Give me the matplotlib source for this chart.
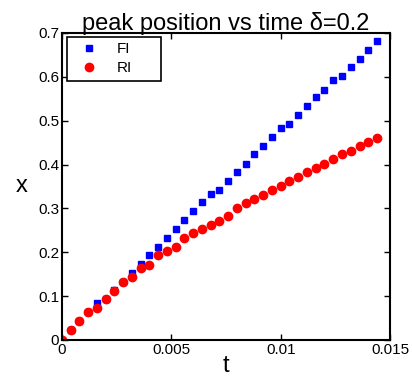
import matplotlib
matplotlib.use('Agg')
import matplotlib.pyplot as plt
import numpy as np

plt.rcParams['font.family'] = ['Liberation Sans', 'DejaVu Sans']

t = np.arange(37) * 0.0004
fi = [0, 0.022, 0.043, 0.064, 0.0835, 0.094, 0.113, 0.133, 0.153, 0.173,
      0.194, 0.213, 0.233, 0.254, 0.273, 0.293, 0.314, 0.333, 0.342, 0.363,
      0.383, 0.402, 0.424, 0.443, 0.462, 0.483, 0.493, 0.512, 0.533, 0.553,
      0.571, 0.592, 0.602, 0.622, 0.641, 0.662, 0.682]
ri = [0, 0.0235, 0.043, 0.064, 0.074, 0.093, 0.112, 0.133, 0.144, 0.163,
      0.172, 0.193, 0.203, 0.212, 0.232, 0.243, 0.253, 0.262, 0.272, 0.282,
      0.302, 0.313, 0.322, 0.331, 0.342, 0.351, 0.362, 0.372, 0.382, 0.392,
      0.402, 0.412, 0.423, 0.432, 0.442, 0.451, 0.461]

fig = plt.figure(figsize=(4.12, 3.79), dpi=100)
ax = fig.add_axes([0.150, 0.103, 0.797, 0.810])
ax.plot(t, fi, 's', color='blue', ms=5, mec='blue', label='FI')
ax.plot(t, ri, 'o', color='red', ms=6, mec='red', label='RI')

ax.set_xlim(0, 0.015)
ax.set_ylim(0, 0.7)
ax.set_xticks([0, 0.005, 0.01, 0.015])
ax.set_xticklabels(['0', '0.005', '0.01', '0.015'])
ax.set_yticks(np.arange(0, 0.71, 0.1))
ax.set_yticklabels(['0', '0.1', '0.2', '0.3', '0.4', '0.5', '0.6', '0.7'])
ax.tick_params(direction='in', top=True, right=True, labelsize=11, length=4, width=1, pad=2)
for s in ax.spines.values():
    s.set_linewidth(1.5)

ax.set_xlabel('t', fontsize=17, labelpad=-1)
ax.set_ylabel('x', fontsize=17, rotation=0, labelpad=12, va='center')
ax.set_title('peak position vs time δ=0.2', fontsize=17, pad=2)

leg = ax.legend(loc='upper left', fontsize=11, fancybox=False, framealpha=1,
                edgecolor='black', bbox_to_anchor=(0.015, 0.988, 0.287, 0),
                mode='expand', borderaxespad=0, handletextpad=0.7,
                handlelength=2.2, borderpad=0.35, labelspacing=0.35)
leg.get_frame().set_linewidth(1.2)

fig.savefig('out.png', dpi=100)
